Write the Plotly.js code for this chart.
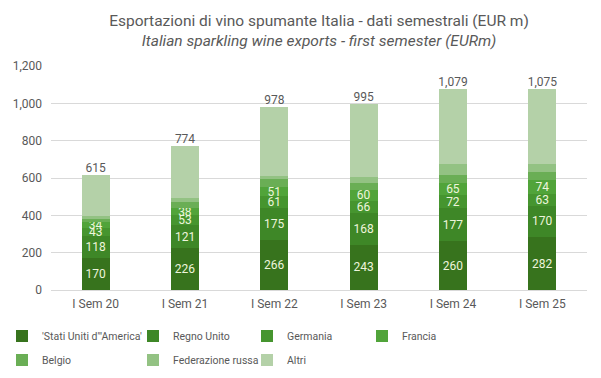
<!DOCTYPE html>
<html>
<head>
<meta charset="utf-8">
<script src="https://cdn.plot.ly/plotly-3.0.1.min.js"></script>
<style>html,body{margin:0;padding:0;background:#fff;}#chart{width:601px;height:378px;}</style>
</head>
<body>
<div id="chart"></div>
<script>
var categories = ["I Sem 20", "I Sem 21", "I Sem 22", "I Sem 23", "I Sem 24", "I Sem 25"];
var usa = [170, 226, 266, 243, 260, 282];
var regnoUnito = [118, 121, 175, 168, 177, 170];
var germania = [43, 53, 61, 66, 72, 63];
var francia = [34, 38, 51, 60, 65, 74];
var belgio = [16, 36, 42, 37, 43, 44];
var russia = [18, 21, 16, 32, 58, 42];
var altri = [216, 279, 367, 389, 404, 400];
var totals = [615, 774, 978, 995, 1079, 1075];

var seriesNames = ["'Stati Uniti d'\"America'", "Regno Unito", "Germania", "Francia", "Belgio", "Federazione russa", "Altri"];
var seriesValues = [usa, regnoUnito, germania, francia, belgio, russia, altri];
var seriesColors = ["#37731d", "#3e8727", "#46952f", "#51a43a", "#6aae55", "#93c283", "#b4d1a8"];
var labelled = [true, true, true, true, false, false, false];

var FONT = "Roboto, 'Liberation Sans', sans-serif";

// legend grid: 4 columns x 2 rows, one legend per entry (pixel positions of legend boxes)
var PLOT_L = 51, PLOT_W = 536, PLOT_B = 290, PLOT_H = 224;
var legendColPx = [2, 133, 247, 362];
var legendRowPx = [336, 360];

var traces = [];
var layout = {
  width: 601,
  height: 378,
  margin: {l: 51, r: 14, t: 66, b: 88, autoexpand: false},
  paper_bgcolor: '#ffffff',
  plot_bgcolor: '#ffffff',
  font: {family: FONT, size: 12, color: '#595959'},
  barmode: 'stack',
  bargap: 0.685,
  uniformtext: {mode: 'show', minsize: 12},
  title: {
    text: "Esportazioni di vino spumante Italia - dati semestrali (EUR m)<br><i>Italian sparkling wine exports - first semester (EURm)</i>",
    font: {family: FONT, size: 15.5, color: '#595959'},
    x: 0.5, xanchor: 'center', xref: 'paper',
    yref: 'container', y: 0.932, yanchor: 'middle'
  },
  xaxis: {
    type: 'category',
    showgrid: false,
    showline: false,
    zeroline: false,
    ticks: '',
    automargin: false,
    ticklabelstandoff: 5,
    tickfont: {family: FONT, size: 12, color: '#595959'}
  },
  yaxis: {
    range: [0, 1200],
    dtick: 200,
    tickformat: ',',
    gridcolor: '#d9d9d9',
    gridwidth: 1,
    zeroline: true,
    zerolinecolor: '#d9d9d9',
    showline: false,
    ticks: '',
    automargin: false,
    ticklabelstandoff: 8,
    tickfont: {family: FONT, size: 12, color: '#595959'}
  },
  showlegend: true
};

for (var i = 0; i < seriesNames.length; i++) {
  var legId = i === 0 ? 'legend' : 'legend' + (i + 1);
  var col = i % 4, row = Math.floor(i / 4);
  layout[legId] = {
    orientation: 'h',
    x: (legendColPx[col] - PLOT_L) / PLOT_W,
    xanchor: 'left',
    y: -(legendRowPx[row] - PLOT_B) / PLOT_H,
    yanchor: 'middle',
    itemwidth: 30,
    font: {family: FONT, size: 10.5, color: '#595959'},
    bgcolor: 'rgba(0,0,0,0)'
  };
  var t = {
    type: 'bar',
    name: seriesNames[i],
    legend: legId,
    x: categories,
    y: seriesValues[i],
    marker: {color: seriesColors[i], line: {width: 0}},
    hoverinfo: 'skip'
  };
  if (labelled[i]) {
    t.text = seriesValues[i].map(String);
    t.textposition = 'inside';
    t.insidetextanchor = 'middle';
    t.textangle = 0;
    t.constraintext = 'none';
    t.textfont = {family: FONT, size: 12, color: '#eef5dc'};
  } else {
    t.textposition = 'none';
  }
  traces.push(t);
}
traces.push({
  type: 'scatter',
  mode: 'text',
  x: categories,
  y: totals,
  text: totals.map(function (v) { return v.toLocaleString('en-US'); }),
  textposition: 'top center',
  textfont: {family: FONT, size: 12, color: '#595959'},
  marker: {size: 12},
  showlegend: false,
  hoverinfo: 'skip',
  cliponaxis: false
});

Plotly.newPlot('chart', traces, layout, {displayModeBar: false, staticPlot: true});
</script>
</body>
</html>
